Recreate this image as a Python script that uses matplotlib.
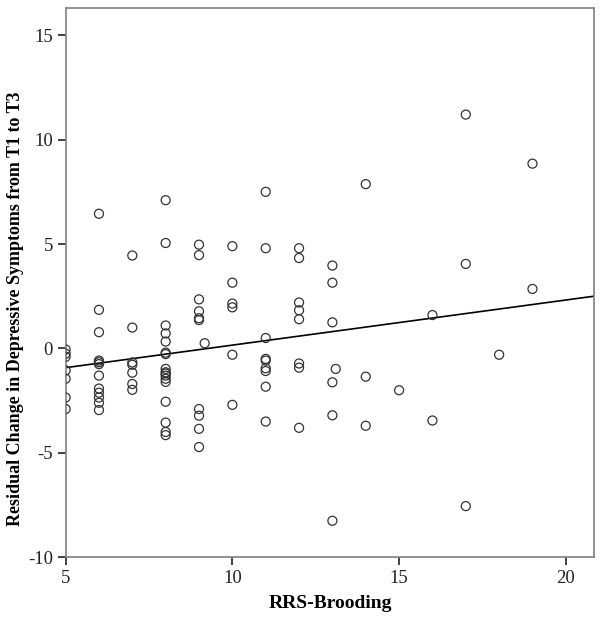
import matplotlib
matplotlib.use("Agg")
import matplotlib.pyplot as plt
import numpy as np

# RRS-Brooding score (x) and residual change (y), grouped by x value
brooding = (
    [5]*7 + [6]*12 + [7]*7 + [8]*17 + [9]*10 + [9.17] + [10]*6 + [11]*9 +
    [12]*8 + [13]*6 + [13.1] + [14]*3 + [15] + [16]*2 + [17]*3 + [18] + [19]*2
)
residual = (
    # x = 5
    [-0.05, -0.25, -0.4, -1.05, -1.45, -2.35, -2.9]
    # x = 6
    + [6.45, 1.85, 0.78, -0.58, -0.66, -0.75, -1.3, -1.92, -2.12, -2.35, -2.6, -2.95]
    # x = 7
    + [4.45, 1.0, -0.67, -0.78, -1.16, -1.7, -1.98]
    # x = 8
    + [7.1, 5.05, 1.1, 0.72, 0.33, -0.2, -0.27, -0.98, -1.14, -1.3, -1.45, -1.6,
       -2.55, -3.55, -4.0, -4.15, -1.2]
    # x = 9
    + [4.97, 4.47, 2.35, 1.78, 1.45, 1.36, -2.9, -3.22, -3.85, -4.72]
    # x = 9.17
    + [0.25]
    # x = 10
    + [4.9, 3.15, 2.15, 1.97, -0.3, -2.7]
    # x = 11
    + [7.5, 4.8, 0.5, -0.5, -0.58, -0.95, -1.08, -1.83, -3.5]
    # x = 12
    + [4.8, 4.33, 2.2, 1.83, 1.4, -0.72, -0.92, -3.8]
    # x = 13
    + [3.97, 3.15, 1.25, -1.62, -3.2, -8.25]
    # x = 13.1
    + [-0.98]
    # x = 14
    + [7.87, -1.35, -3.7]
    # x = 15
    + [-2.0]
    # x = 16
    + [1.6, -3.45]
    # x = 17
    + [11.2, 4.05, -7.55]
    # x = 18
    + [-0.3]
    # x = 19
    + [8.85, 2.85]
)

fit_intercept_at_5 = -0.92
fit_slope = 0.216

x_ticks = [5, 10, 15, 20]
y_ticks = [-10, -5, 0, 5, 10, 15]

plt.rcParams['font.family'] = ['Liberation Serif', 'DejaVu Serif']

fig = plt.figure(figsize=(6.02, 6.30), dpi=100)
ax = fig.add_axes([0.109, 0.1154, 0.878, 0.8718])

ax.scatter(brooding, residual, s=42, facecolors='none', edgecolors='#333333',
           linewidths=0.9, zorder=3)

xl = np.array([5, 20.85])
ax.plot(xl, fit_intercept_at_5 + fit_slope * (xl - 5), color='black', lw=1.2, zorder=2)

ax.set_xlim(5, 20.85)
ax.set_ylim(-10, 16.3)
ax.set_xticks(x_ticks)
ax.set_yticks(y_ticks)
ax.set_xticklabels([str(t) for t in x_ticks])
ax.set_yticklabels([str(t) for t in y_ticks])

for sp in ax.spines.values():
    sp.set_color('#7f7f7f')
    sp.set_linewidth(1.2)

ax.tick_params(axis='both', direction='out', length=6, width=1.2, color='#222222',
               labelsize=13.5, labelcolor='#222222', pad=3)

ax.set_xlabel('RRS-Brooding', fontsize=14, fontweight='bold', labelpad=6)
ax.set_ylabel('Residual Change in Depressive Symptoms from T1 to T3', fontsize=13,
              fontweight='bold')
ax.yaxis.set_label_coords(-0.078, 0.452)

fig.savefig('out.png', dpi=100)
